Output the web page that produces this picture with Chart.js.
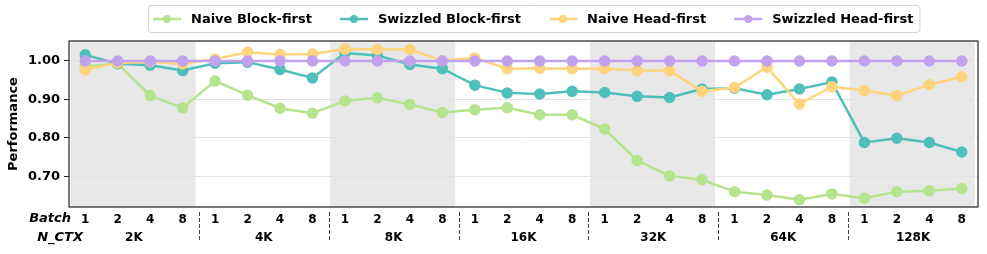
<!DOCTYPE html>
<html>
<head>
<meta charset="utf-8">
<script src="https://cdn.jsdelivr.net/npm/chart.js@4.4.1/dist/chart.umd.min.js"></script>
<style>
  html, body { margin: 0; padding: 0; background: #fff; }
  #wrap { width: 987px; height: 254px; }
</style>
</head>
<body>
<div id="wrap"><canvas id="chart" width="987" height="254"></canvas></div>
<script>
// data
const nctx = ['2K', '4K', '8K', '16K', '32K', '64K', '128K'];
const batches = ['1', '2', '4', '8'];
const yTicks = [0.70, 0.80, 0.90, 1.00];

const naiveBlock = [0.986, 0.993, 0.910, 0.878, 0.948, 0.911, 0.877, 0.864,
                    0.896, 0.904, 0.887, 0.866, 0.873, 0.878, 0.860, 0.860,
                    0.823, 0.741, 0.701, 0.691, 0.660, 0.651, 0.639, 0.654,
                    0.643, 0.660, 0.662, 0.668];
const swizzledBlock = [1.016, 0.993, 0.989, 0.975, 0.994, 0.997, 0.978, 0.956,
                       1.021, 1.014, 0.991, 0.980, 0.937, 0.917, 0.914, 0.921,
                       0.918, 0.908, 0.905, 0.927, 0.929, 0.912, 0.927, 0.945,
                       0.788, 0.799, 0.788, 0.763];
const naiveHead = [0.977, 0.995, 0.998, 0.993, 1.005, 1.023, 1.017, 1.018,
                   1.031, 1.030, 1.030, 1.001, 1.008, 0.980, 0.981, 0.980,
                   0.980, 0.975, 0.975, 0.921, 0.931, 0.984, 0.888, 0.933,
                   0.923, 0.910, 0.938, 0.959];
const swizzledHead = [1.00, 1.00, 1.00, 1.00, 1.00, 1.00, 1.00, 1.00,
                      1.00, 1.00, 1.00, 1.00, 1.00, 1.00, 1.00, 1.00,
                      1.00, 1.00, 1.00, 1.00, 1.00, 1.00, 1.00, 1.00,
                      1.00, 1.00, 1.00, 1.00];

const seriesNames = ['Naive Block-first', 'Swizzled Block-first', 'Naive Head-first', 'Swizzled Head-first'];
const colors = ['#b6e48e', '#4fbfb9', '#ffd47c', '#c2a2ee'];

const labels = [];
nctx.forEach(() => batches.forEach(b => labels.push(b)));

const FONT = '"DejaVu Sans", sans-serif';

function mkSet(i, data, order) {
  return {
    label: seriesNames[i],
    data: data,
    borderColor: colors[i],
    backgroundColor: colors[i],
    pointBackgroundColor: colors[i],
    pointBorderColor: colors[i],
    borderWidth: 2.5,
    pointRadius: 4.5,
    pointHoverRadius: 4.5,
    tension: 0,
    order: order
  };
}

const decor = {
  id: 'decor',
  beforeDraw(chart) {
    const ctx = chart.ctx;
    const a = chart.chartArea;
    const x = chart.scales.x;
    const step = x.getPixelForValue(1) - x.getPixelForValue(0);
    ctx.save();
    ctx.fillStyle = '#e8e8e8';
    for (let g = 0; g < nctx.length; g += 2) {
      let x0 = Math.max(a.left, x.getPixelForValue(g * 4) - 0.45 * step);
      let x1 = x.getPixelForValue(g * 4 + 3) + 0.4 * step;
      ctx.fillRect(x0, a.top, x1 - x0, a.bottom - a.top);
    }
    ctx.restore();
  },
  afterDraw(chart) {
    const ctx = chart.ctx;
    const a = chart.chartArea;
    const x = chart.scales.x;
    ctx.save();
    // frame
    ctx.strokeStyle = '#222';
    ctx.lineWidth = 1.2;
    ctx.strokeRect(a.left, a.top, a.right - a.left, a.bottom - a.top);

    // group labels + separators
    ctx.fillStyle = '#000';
    ctx.font = 'bold 12px ' + FONT;
    ctx.textAlign = 'center';
    ctx.textBaseline = 'middle';
    nctx.forEach((n, g) => {
      const cx = (x.getPixelForValue(g * 4 + 1) + x.getPixelForValue(g * 4 + 2)) / 2;
      ctx.fillText(n, cx, 238);
      if (g > 0) {
        const sx = Math.round((x.getPixelForValue(g * 4 - 1) + x.getPixelForValue(g * 4)) / 2) + 0.5;
        ctx.strokeStyle = '#444';
        ctx.lineWidth = 1;
        ctx.setLineDash([4, 2]);
        ctx.beginPath();
        ctx.moveTo(sx, 212);
        ctx.lineTo(sx, 241);
        ctx.stroke();
        ctx.setLineDash([]);
      }
    });
    ctx.font = 'italic bold 13px ' + FONT;
    ctx.textAlign = 'right';
    ctx.fillText('Batch', 71, 219);
    ctx.fillText('N_CTX', 83, 238);

    // legend
    ctx.font = 'bold 13px ' + FONT;
    ctx.textAlign = 'left';
    const ly = 19;
    let px = 153;
    const parts = [];
    seriesNames.forEach((s, i) => {
      const w = ctx.measureText(s).width;
      parts.push({ x: px, w: w, i: i });
      px += 28 + 10 + w + 28;
    });
    const endX = px - 28;
    ctx.strokeStyle = '#d0d0d0';
    ctx.lineWidth = 1;
    ctx.beginPath();
    ctx.roundRect(148.5, 5.5, endX + 6 - 148, 27, 3);
    ctx.stroke();
    parts.forEach(p => {
      const c = colors[p.i];
      ctx.strokeStyle = c;
      ctx.lineWidth = 2.5;
      ctx.beginPath();
      ctx.moveTo(p.x, ly);
      ctx.lineTo(p.x + 28, ly);
      ctx.stroke();
      ctx.fillStyle = c;
      ctx.beginPath();
      ctx.arc(p.x + 14, ly, 4, 0, Math.PI * 2);
      ctx.fill();
      ctx.fillStyle = '#000';
      ctx.fillText(seriesNames[p.i], p.x + 38, ly + 1);
    });
    ctx.restore();
  }
};

new Chart(document.getElementById('chart'), {
  type: 'line',
  data: {
    labels: labels,
    datasets: [
      mkSet(0, naiveBlock, 4),
      mkSet(1, swizzledBlock, 3),
      mkSet(2, naiveHead, 2),
      mkSet(3, swizzledHead, 1)
    ]
  },
  options: {
    responsive: false,
    animation: false,
    layout: { padding: { top: 41, right: 9, left: 0, bottom: 0 } },
    plugins: { legend: { display: false }, tooltip: { enabled: false } },
    scales: {
      x: {
        type: 'category',
        offset: true,
        grid: { display: false, drawTicks: false },
        border: { display: false },
        ticks: {
          color: '#000',
          font: { family: FONT, size: 12, weight: 'bold' },
          padding: 6,
          maxRotation: 0,
          autoSkip: false
        },
        afterFit(s) { s.height = 47; }
      },
      y: {
        min: 0.62,
        max: 1.052,
        afterBuildTicks(s) { s.ticks = yTicks.map(v => ({ value: v })); },
        grid: { color: '#e3e3e3', lineWidth: 1, tickLength: 5, tickColor: '#222' },
        border: { display: false },
        ticks: {
          color: '#000',
          padding: 4,
          font: { family: FONT, size: 13, weight: 'bold' },
          callback: v => v.toFixed(2)
        },
        title: {
          display: true,
          text: 'Performance',
          color: '#000',
          font: { family: FONT, size: 13, weight: 'bold' },
          padding: { top: 6, bottom: 0 }
        },
        afterFit(s) { s.width = 69; }
      }
    }
  },
  plugins: [decor]
});
</script>
</body>
</html>
